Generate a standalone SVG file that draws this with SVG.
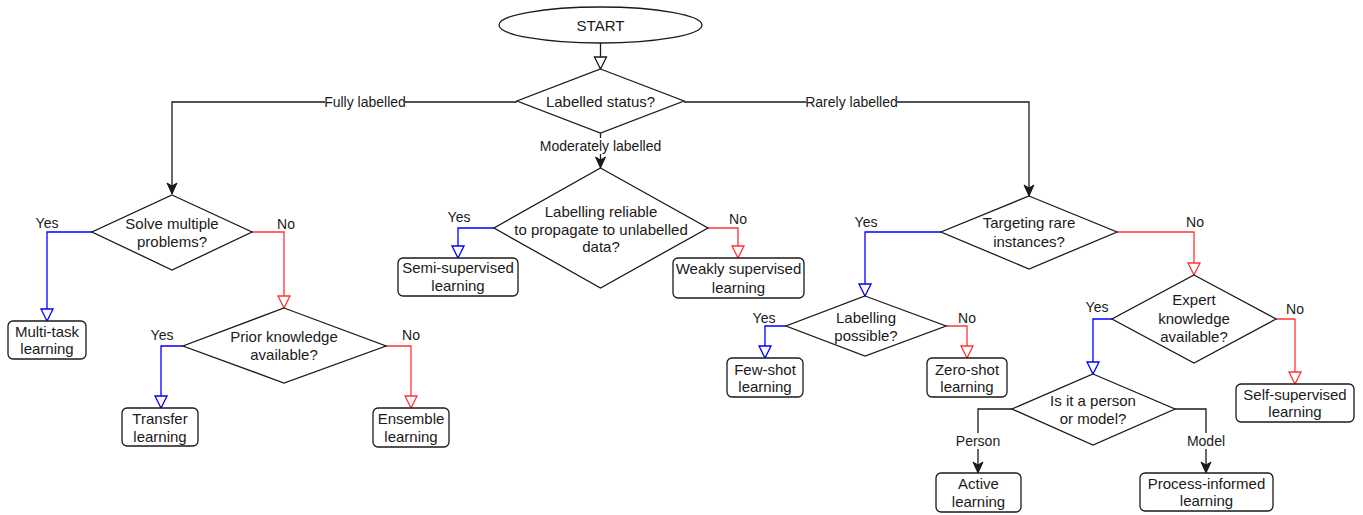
<svg xmlns="http://www.w3.org/2000/svg" width="1363" height="515" viewBox="0 0 1363 515">
<style>
.n{fill:#fff;stroke:#1a1a1a;stroke-width:1.3}
.t{font-family:"Liberation Sans",Arial,sans-serif;font-size:15px;fill:#1a1a1a;text-anchor:middle}
.l{font-family:"Liberation Sans",Arial,sans-serif;font-size:14px;fill:#1a1a1a;text-anchor:middle}
.k{fill:none;stroke:#1a1a1a;stroke-width:1.3}
.b{fill:none;stroke:#0000ff;stroke-width:1.3}
.r{fill:none;stroke:#ff3333;stroke-width:1.3}
.bg{fill:#fff}
</style>
<defs>
<marker id="hk" markerUnits="userSpaceOnUse" markerWidth="14" markerHeight="14" refX="12" refY="6" orient="auto" overflow="visible"><path d="M0,0 L12,6 L0,12 Z" fill="#fff" stroke="#1a1a1a" stroke-width="1.3"/></marker>
<marker id="hb" markerUnits="userSpaceOnUse" markerWidth="14" markerHeight="14" refX="12" refY="6" orient="auto" overflow="visible"><path d="M0,0 L12,6 L0,12 Z" fill="#fff" stroke="#0000ff" stroke-width="1.3"/></marker>
<marker id="hr" markerUnits="userSpaceOnUse" markerWidth="14" markerHeight="14" refX="12" refY="6" orient="auto" overflow="visible"><path d="M0,0 L12,6 L0,12 Z" fill="#fff" stroke="#ff3333" stroke-width="1.3"/></marker>
<marker id="fk" markerUnits="userSpaceOnUse" markerWidth="12" markerHeight="12" refX="11" refY="5" orient="auto" overflow="visible"><path d="M0,0 L11,5 L0,10 L3,5 Z" fill="#1a1a1a" stroke="#1a1a1a" stroke-width="1"/></marker>
</defs>

<g id="connectors">
<path class="k" d="M600.5,43 V69" marker-end="url(#hk)"/>
<path class="k" d="M517,102 H172 V194" marker-end="url(#fk)"/>
<path class="k" d="M684,102 H1029 V196" marker-end="url(#fk)"/>
<path class="k" d="M600.5,133 V168" marker-end="url(#fk)"/>
<path class="b" d="M92,232 H47 V321" marker-end="url(#hb)"/>
<path class="r" d="M252,232 H284 V308" marker-end="url(#hr)"/>
<path class="b" d="M183,346 H161 V408" marker-end="url(#hb)"/>
<path class="r" d="M386,346 H411 V408" marker-end="url(#hr)"/>
<path class="b" d="M494,228 H458 V258" marker-end="url(#hb)"/>
<path class="r" d="M708,228 H738 V258" marker-end="url(#hr)"/>
<path class="b" d="M941,232 H865 V296" marker-end="url(#hb)"/>
<path class="r" d="M1117,232 H1194 V275" marker-end="url(#hr)"/>
<path class="b" d="M786,326 H765 V358" marker-end="url(#hb)"/>
<path class="r" d="M946,326 H967 V358" marker-end="url(#hr)"/>
<path class="b" d="M1112,319 H1093 V374" marker-end="url(#hb)"/>
<path class="r" d="M1276,319 H1295 V384" marker-end="url(#hr)"/>
<path class="k" d="M1012,409 H978 V473" marker-end="url(#fk)"/>
<path class="k" d="M1175,409 H1206 V473" marker-end="url(#fk)"/>
<rect class="bg" x="325" y="94" width="80" height="16"/>
<text class="l" x="365" y="107">Fully labelled</text>
<rect class="bg" x="806" y="94" width="91" height="16"/>
<text class="l" x="851.5" y="107">Rarely labelled</text>
<rect class="bg" x="540" y="138" width="122" height="16"/>
<text class="l" x="600.5" y="151">Moderately labelled</text>
<rect class="bg" x="956" y="433" width="44" height="16"/>
<text class="l" x="978" y="446">Person</text>
<rect class="bg" x="1187" y="433" width="38" height="16"/>
<text class="l" x="1206" y="446">Model</text>
<text class="l" x="47" y="228">Yes</text>
<text class="l" x="286" y="229">No</text>
<text class="l" x="162" y="340">Yes</text>
<text class="l" x="411" y="340">No</text>
<text class="l" x="459" y="222">Yes</text>
<text class="l" x="738" y="224">No</text>
<text class="l" x="866" y="227">Yes</text>
<text class="l" x="1195" y="227">No</text>
<text class="l" x="764" y="323">Yes</text>
<text class="l" x="967" y="323">No</text>
<text class="l" x="1097" y="312">Yes</text>
<text class="l" x="1295" y="314">No</text>
</g>

<g id="start">
<ellipse class="n" cx="600.5" cy="25" rx="101.5" ry="18"/>
<text class="t" x="600.5" y="30.5">START</text>
</g>
<g id="labelled-status">
<polygon class="n" points="600.5,69 684,101 600.5,133 517,101"/>
<text class="t" x="600.5" y="106.5">Labelled status?</text>
</g>
<g id="solve-multiple">
<polygon class="n" points="172,195 252,232 172,270 92,232"/>
<text class="t" x="172" y="228.5">Solve multiple</text>
<text class="t" x="172" y="246.5">problems?</text>
</g>
<g id="multi-task">
<rect class="n" x="8" y="321" width="78" height="38" rx="5"/>
<text class="t" x="47" y="336.5">Multi-task</text>
<text class="t" x="47" y="354">learning</text>
</g>
<g id="prior-knowledge">
<polygon class="n" points="284,308 386,346 284,383 183,346"/>
<text class="t" x="284" y="342">Prior knowledge</text>
<text class="t" x="284" y="360">available?</text>
</g>
<g id="transfer">
<rect class="n" x="122" y="408" width="76" height="38" rx="5"/>
<text class="t" x="160" y="423.5">Transfer</text>
<text class="t" x="160" y="441.5">learning</text>
</g>
<g id="ensemble">
<rect class="n" x="373" y="408" width="76" height="39" rx="5"/>
<text class="t" x="411" y="424">Ensemble</text>
<text class="t" x="411" y="442">learning</text>
</g>
<g id="labelling-reliable">
<polygon class="n" points="600.5,168 708,228 600.5,288 494,228"/>
<text class="t" x="601" y="217">Labelling reliable</text>
<text class="t" x="601" y="234.5">to propagate to unlabelled</text>
<text class="t" x="601" y="252">data?</text>
</g>
<g id="semi-supervised">
<rect class="n" x="398" y="258" width="120" height="38" rx="5"/>
<text class="t" x="458" y="273">Semi-supervised</text>
<text class="t" x="458" y="291">learning</text>
</g>
<g id="weakly-supervised">
<rect class="n" x="673" y="258" width="131" height="40" rx="5"/>
<text class="t" x="738.5" y="274">Weakly supervised</text>
<text class="t" x="738.5" y="292.5">learning</text>
</g>
<g id="targeting-rare">
<polygon class="n" points="1029,196 1117,232 1029,269 941,232"/>
<text class="t" x="1029" y="228">Targeting rare</text>
<text class="t" x="1029" y="246.5">instances?</text>
</g>
<g id="labelling-possible">
<polygon class="n" points="865,296 946,326 865,356 786,326"/>
<text class="t" x="866" y="323">Labelling</text>
<text class="t" x="866" y="341">possible?</text>
</g>
<g id="few-shot">
<rect class="n" x="727" y="358" width="76" height="39" rx="5"/>
<text class="t" x="765" y="374.5">Few-shot</text>
<text class="t" x="765" y="392">learning</text>
</g>
<g id="zero-shot">
<rect class="n" x="927" y="358" width="80" height="39" rx="5"/>
<text class="t" x="967" y="374.5">Zero-shot</text>
<text class="t" x="967" y="392">learning</text>
</g>
<g id="expert-knowledge">
<polygon class="n" points="1194,275 1276,319 1194,363 1112,319"/>
<text class="t" x="1194" y="305">Expert</text>
<text class="t" x="1194" y="324">knowledge</text>
<text class="t" x="1194" y="342">available?</text>
</g>
<g id="self-supervised">
<rect class="n" x="1236" y="384" width="118" height="38" rx="5"/>
<text class="t" x="1295" y="399.5">Self-supervised</text>
<text class="t" x="1295" y="417">learning</text>
</g>
<g id="person-or-model">
<polygon class="n" points="1093,374 1175,409 1093,445 1012,409"/>
<text class="t" x="1093" y="406">Is it a person</text>
<text class="t" x="1093" y="424">or model?</text>
</g>
<g id="active">
<rect class="n" x="936" y="473" width="85" height="39" rx="5"/>
<text class="t" x="978.5" y="489">Active</text>
<text class="t" x="978.5" y="507">learning</text>
</g>
<g id="process-informed">
<rect class="n" x="1140" y="473" width="133" height="38" rx="5"/>
<text class="t" x="1206.5" y="488.5">Process-informed</text>
<text class="t" x="1206.5" y="506">learning</text>
</g>
</svg>
